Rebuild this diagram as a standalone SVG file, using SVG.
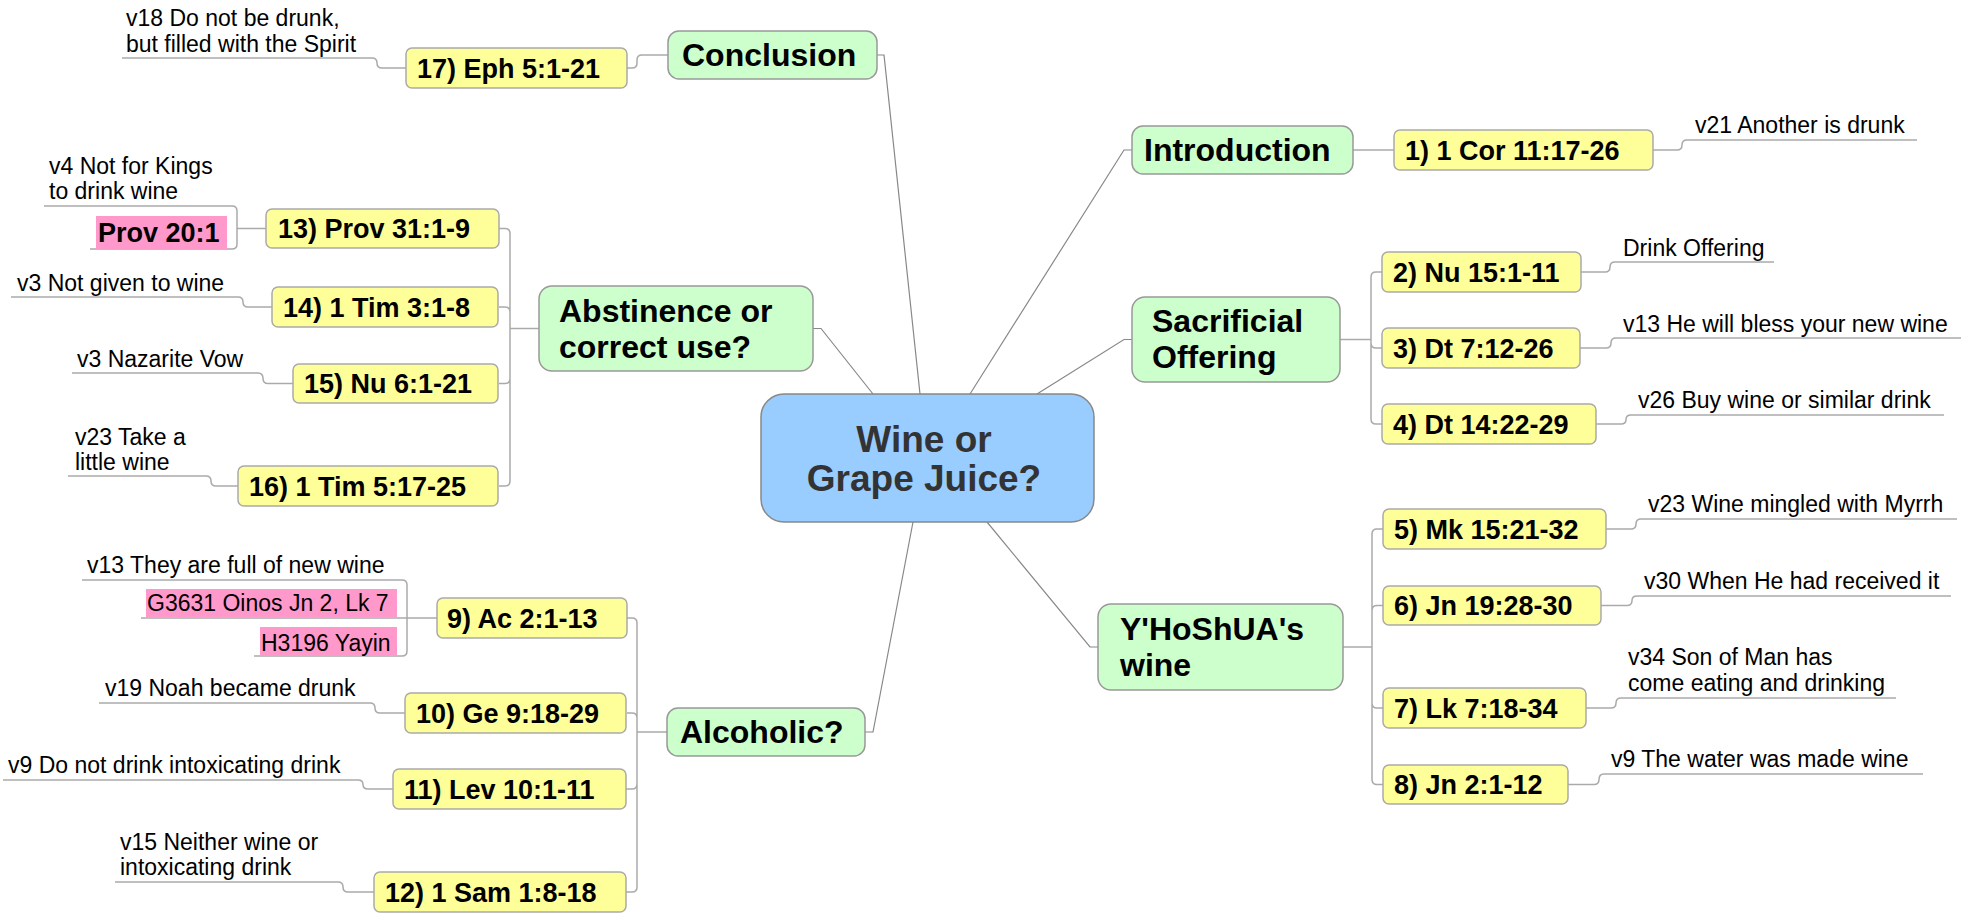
<svg xmlns="http://www.w3.org/2000/svg" width="1965" height="915" viewBox="0 0 1965 915">
<style>
text{font-family:"Liberation Sans",Arial,sans-serif;fill:#000}
.c{fill:#99ccff;stroke:#888;stroke-width:1.5}
.g{fill:#ccffcc;stroke:#999;stroke-width:1.5}
.y{fill:#ffff99;stroke:#aaa;stroke-width:1.5}
.p{fill:#ff99cc;stroke:none}
.ct{font-size:37px;font-weight:bold;fill:#333;text-anchor:middle}
.bt{font-size:32px;font-weight:bold}
.yt{font-size:27px;font-weight:bold}
.lt{font-size:23px}
.main{fill:none;stroke:#888;stroke-width:1.2}
.br{fill:none;stroke:#aaa;stroke-width:1.5}
</style>
<g id="connectors">
<path class="main" d="M877,55 H884 L920,394"/>
<path class="main" d="M813,328.5 H821 L873,394"/>
<path class="main" d="M865,732 H873 L913,522"/>
<path class="main" d="M1132,150 H1124 L970,394"/>
<path class="main" d="M1132,339.5 H1124 L1037,394"/>
<path class="main" d="M1098,647 H1090 L987,522"/>
<path class="br" d="M627,68 H632 Q637,68 637,63 V60 Q637,55 642,55 H668"/>
<path class="br" d="M1353,150 H1394"/>
<path class="br" d="M539,328.5 H510 M510,233.5 V481 M499,228.5 H505 Q510,228.5 510,233.5 M499,307 H505 Q510,307 510,312 M499,383.5 H505 Q510,383.5 510,378.5 M499,486 H505 Q510,486 510,481"/>
<path class="br" d="M667,732 H637 M637,623 V887 M627,618 H632 Q637,618 637,623 M627,713 H632 Q637,713 637,718 M626,789 H632 Q637,789 637,784 M626,892 H632 Q637,892 637,887"/>
<path class="br" d="M1340,339.5 H1371 M1371,277 V419 M1382,272 H1376 Q1371,272 1371,277 M1382,348 H1376 Q1371,348 1371,343 M1382,424 H1376 Q1371,424 1371,419"/>
<path class="br" d="M1343,647 H1372 M1372,534 V779.5 M1383,529 H1377 Q1372,529 1372,534 M1383,605.5 H1377 Q1372,605.5 1372,610.5 M1383,708 H1377 Q1372,708 1372,703 M1383,784.5 H1377 Q1372,784.5 1372,779.5"/>
<path class="br" d="M1653,150 H1677 Q1682,150 1682,145 Q1682,140 1687,140 H1917"/>
<path class="br" d="M1581,272 H1605 Q1610,272 1610,267 Q1610,262 1615,262 H1774"/>
<path class="br" d="M1580,348 H1606 Q1611,348 1611,343 Q1611,338 1616,338 H1961"/>
<path class="br" d="M1596,424 H1621 Q1626,424 1626,419.5 Q1626,415 1631,415 H1944"/>
<path class="br" d="M1606,529 H1631 Q1636,529 1636,524 Q1636,519 1641,519 H1957"/>
<path class="br" d="M1601,605.5 H1627 Q1632,605.5 1632,600.5 Q1632,596 1637,596 H1951"/>
<path class="br" d="M1586,708 H1611 Q1616,708 1616,703 Q1616,698 1621,698 H1896"/>
<path class="br" d="M1568,784.5 H1594 Q1599,784.5 1599,779.5 Q1599,774 1604,774 H1923"/>
<path class="br" d="M406,68 H382 Q377,68 377,63 Q377,58 372,58 H122"/>
<path class="br" d="M266,228.5 H237 M237,228.5 V211 Q237,206 232,206 H44 M237,228.5 V244 Q237,249 232,249 H90"/>
<path class="br" d="M272,307 H248 Q243,307 243,302 Q243,297 238,297 H11"/>
<path class="br" d="M293,383.5 H268 Q263,383.5 263,378.5 Q263,373 258,373 H72"/>
<path class="br" d="M238,486 H216 Q211,486 211,481 Q211,476 206,476 H68"/>
<path class="br" d="M437,618 H141 M407,618 V585 Q407,580 402,580 H82 M407,618 V651 Q407,656 402,656 H254"/>
<path class="br" d="M405,713 H380 Q375,713 375,708 Q375,703 370,703 H99"/>
<path class="br" d="M393,789 H368 Q363,789 363,784.5 Q363,780 358,780 H3"/>
<path class="br" d="M374,892 H348 Q343,892 343,887 Q343,882 338,882 H115"/>
</g>
<g id="center">
<rect class="c" x="761" y="394" width="333" height="128" rx="23"/>
<text class="ct" x="924" y="452">Wine or</text>
<text class="ct" x="924" y="491">Grape Juice?</text>
</g>
<g id="conclusion">
<rect class="g" x="668" y="31" width="209" height="48" rx="11"/>
<text class="bt" x="682" y="66">Conclusion</text>
</g>
<g id="introduction">
<rect class="g" x="1132" y="126" width="221" height="48" rx="11"/>
<text class="bt" x="1144" y="161">Introduction</text>
</g>
<g id="sacrificial">
<rect class="g" x="1132" y="297" width="208" height="85" rx="13"/>
<text class="bt" x="1152" y="332">Sacrificial</text>
<text class="bt" x="1152" y="368">Offering</text>
</g>
<g id="yhoshua">
<rect class="g" x="1098" y="604" width="245" height="86" rx="13"/>
<text class="bt" x="1120" y="640">Y'HoShUA's</text>
<text class="bt" x="1120" y="676">wine</text>
</g>
<g id="abstinence">
<rect class="g" x="539" y="286" width="274" height="85" rx="13"/>
<text class="bt" x="559" y="322">Abstinence or</text>
<text class="bt" x="559" y="358">correct use?</text>
</g>
<g id="alcoholic">
<rect class="g" x="667" y="708" width="198" height="48" rx="11"/>
<text class="bt" x="680" y="743">Alcoholic?</text>
</g>
<g id="n1"><rect class="y" x="1394" y="130" width="259" height="40" rx="6"/><text class="yt" x="1405" y="160">1) 1 Cor 11:17-26</text></g>
<g id="n2"><rect class="y" x="1382" y="252" width="199" height="40" rx="6"/><text class="yt" x="1393" y="282">2) Nu 15:1-11</text></g>
<g id="n3"><rect class="y" x="1382" y="328" width="198" height="40" rx="6"/><text class="yt" x="1393" y="358">3) Dt 7:12-26</text></g>
<g id="n4"><rect class="y" x="1382" y="404" width="214" height="40" rx="6"/><text class="yt" x="1393" y="434">4) Dt 14:22-29</text></g>
<g id="n5"><rect class="y" x="1383" y="509" width="223" height="40" rx="6"/><text class="yt" x="1394" y="539">5) Mk 15:21-32</text></g>
<g id="n6"><rect class="y" x="1383" y="586" width="218" height="39" rx="6"/><text class="yt" x="1394" y="615">6) Jn 19:28-30</text></g>
<g id="n7"><rect class="y" x="1383" y="688" width="203" height="40" rx="6"/><text class="yt" x="1394" y="718">7) Lk 7:18-34</text></g>
<g id="n8"><rect class="y" x="1383" y="765" width="185" height="39" rx="6"/><text class="yt" x="1394" y="794">8) Jn 2:1-12</text></g>
<g id="n9"><rect class="y" x="437" y="598" width="190" height="40" rx="6"/><text class="yt" x="447" y="628">9) Ac 2:1-13</text></g>
<g id="n10"><rect class="y" x="405" y="693" width="221" height="40" rx="6"/><text class="yt" x="416" y="723">10) Ge 9:18-29</text></g>
<g id="n11"><rect class="y" x="393" y="769" width="233" height="40" rx="6"/><text class="yt" x="404" y="799">11) Lev 10:1-11</text></g>
<g id="n12"><rect class="y" x="374" y="872" width="252" height="40" rx="6"/><text class="yt" x="385" y="902">12) 1 Sam 1:8-18</text></g>
<g id="n13"><rect class="y" x="266" y="209" width="233" height="39" rx="6"/><text class="yt" x="278" y="238">13) Prov 31:1-9</text></g>
<g id="n14"><rect class="y" x="272" y="287" width="226" height="40" rx="6"/><text class="yt" x="283" y="317">14) 1 Tim 3:1-8</text></g>
<g id="n15"><rect class="y" x="293" y="364" width="205" height="39" rx="6"/><text class="yt" x="304" y="393">15) Nu 6:1-21</text></g>
<g id="n16"><rect class="y" x="238" y="466" width="260" height="40" rx="6"/><text class="yt" x="249" y="496">16) 1 Tim 5:17-25</text></g>
<g id="n17"><rect class="y" x="406" y="48" width="221" height="40" rx="6"/><text class="yt" x="417" y="78">17) Eph 5:1-21</text></g>
<g id="l1"><text class="lt" x="1695" y="133">v21 Another is drunk</text></g>
<g id="l2"><text class="lt" x="1623" y="256">Drink Offering</text></g>
<g id="l3"><text class="lt" x="1623" y="332">v13 He will bless your new wine</text></g>
<g id="l4"><text class="lt" x="1638" y="408">v26 Buy wine or similar drink</text></g>
<g id="l5"><text class="lt" x="1648" y="512">v23 Wine mingled with Myrrh</text></g>
<g id="l6"><text class="lt" x="1644" y="589">v30 When He had received it</text></g>
<g id="l7"><text class="lt" x="1628" y="665">v34 Son of Man has</text><text class="lt" x="1628" y="691">come eating and drinking</text></g>
<g id="l8"><text class="lt" x="1611" y="767">v9 The water was made wine</text></g>
<g id="l9a"><text class="lt" x="87" y="573">v13 They are full of new wine</text></g>
<g id="l9b"><rect class="p" x="146" y="589" width="251" height="28"/><text class="lt" x="147" y="611">G3631 Oinos Jn 2, Lk 7</text></g>
<g id="l9c"><rect class="p" x="260" y="627" width="137" height="29"/><text class="lt" x="261" y="651">H3196 Yayin</text></g>
<g id="l10"><text class="lt" x="105" y="696">v19 Noah became drunk</text></g>
<g id="l11"><text class="lt" x="8" y="773">v9 Do not drink intoxicating drink</text></g>
<g id="l12"><text class="lt" x="120" y="850">v15 Neither wine or</text><text class="lt" x="120" y="875">intoxicating drink</text></g>
<g id="l13a"><text class="lt" x="49" y="174">v4 Not for Kings</text><text class="lt" x="49" y="199">to drink wine</text></g>
<g id="l13b"><rect class="p" x="96" y="216" width="131" height="33"/><text class="yt" x="98" y="242">Prov 20:1</text></g>
<g id="l14"><text class="lt" x="17" y="291">v3 Not given to wine</text></g>
<g id="l15"><text class="lt" x="77" y="367">v3 Nazarite Vow</text></g>
<g id="l16"><text class="lt" x="75" y="445">v23 Take a</text><text class="lt" x="75" y="470">little wine</text></g>
<g id="l17"><text class="lt" x="126" y="26">v18 Do not be drunk,</text><text class="lt" x="126" y="52">but filled with the Spirit</text></g>
</svg>
